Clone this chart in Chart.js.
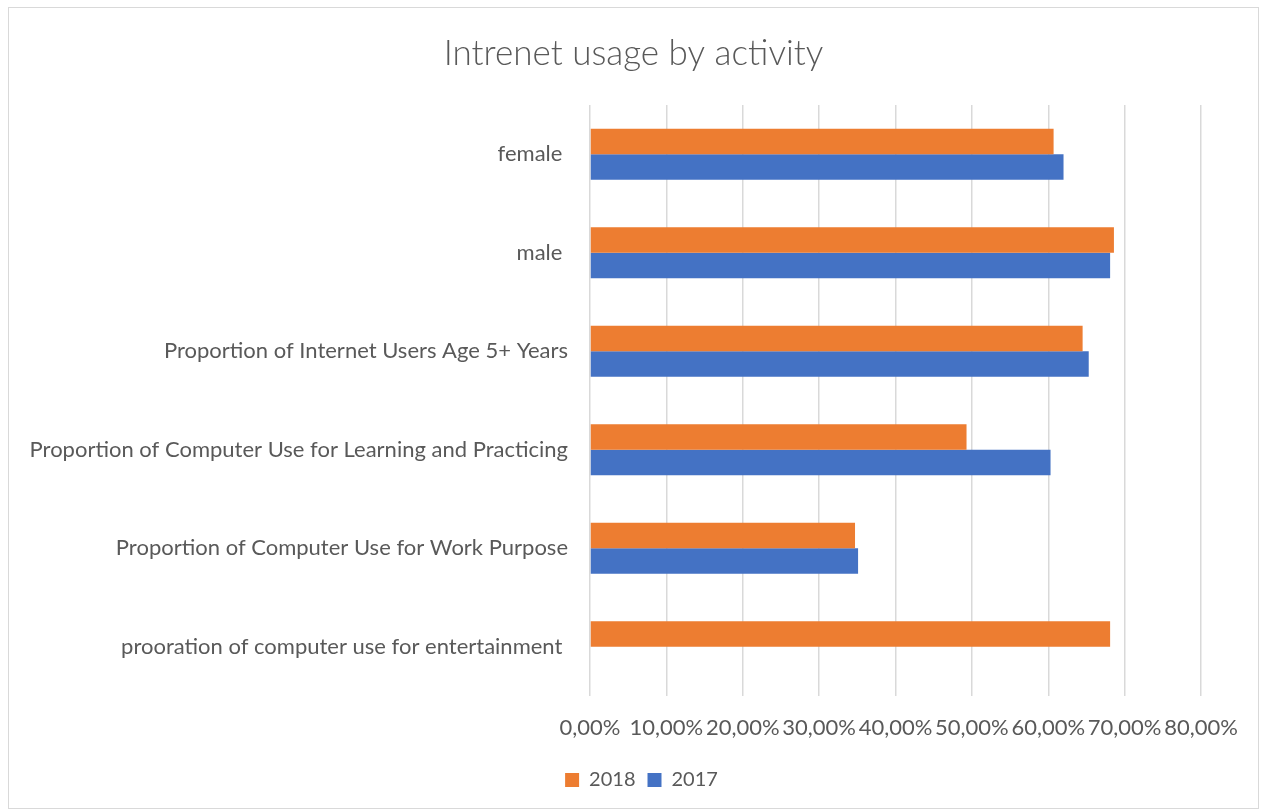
<!DOCTYPE html>
<html>
<head>
<meta charset="utf-8">
<script src="https://cdn.jsdelivr.net/npm/chart.js@4"></script>
<style>
  html, body { margin: 0; padding: 0; background: #fff; }
  #wrap { position: relative; width: 1267px; height: 812px; }
  #frame { position: absolute; left: 8px; top: 7px; width: 1249px; height: 800px; border: 1px solid #d9d9d9; pointer-events: none; }
</style>
</head>
<body>
<div id="wrap">
  <canvas id="usage" width="1267" height="812"></canvas>
  <div id="frame"></div>
</div>
<script>
// categories, top to bottom
var categories = [
  'female ',
  'male ',
  'Proportion of Internet Users Age 5+ Years',
  'Proportion of Computer Use for Learning and Practicing',
  'Proportion of Computer Use for Work Purpose',
  'prooration of computer use for entertainment '
];
var values2018 = [60.7, 68.6, 64.5, 49.3, 34.7, 68.1];
var values2017 = [62.0, 68.1, 65.3, 60.3, 35.1, null];
var xTicks = [0, 10, 20, 30, 40, 50, 60, 70, 80];

var font = 'Lato';
var grey = '#595959';

// nudge the legend a little to the right, as in the original
var legendShift = {
  id: 'legendShift',
  afterLayout: function (chart) {
    chart.legend.left += 8;
    chart.legend.right += 8;
  }
};

var ctx = document.getElementById('usage');
var chart = new Chart(ctx, {
  type: 'bar',
  data: {
    labels: categories,
    datasets: [
      { label: '2018', data: values2018, backgroundColor: '#ED7D31' },
      { label: '2017', data: values2017, backgroundColor: '#4472C4' }
    ]
  },
  plugins: [legendShift],
  options: {
    indexAxis: 'y',
    responsive: false,
    animation: false,
    barPercentage: 1,
    categoryPercentage: 0.52,
    layout: { padding: { top: 33, left: 8, right: 8, bottom: 12 } },
    plugins: {
      title: {
        display: true,
        text: 'Intrenet usage by activity',
        color: grey,
        font: { family: font, size: 35, weight: '300' },
        padding: { top: 0, bottom: 30 }
      },
      legend: {
        position: 'bottom',
        labels: {
          color: grey,
          font: { family: font, size: 20 },
          boxWidth: 14,
          boxHeight: 14,
          padding: 12
        }
      },
      tooltip: { enabled: false }
    },
    scales: {
      x: {
        min: 0,
        max: 80,
        afterBuildTicks: function (s) {
          s.ticks = xTicks.map(function (v) { return { value: v }; });
        },
        afterFit: function (s) {
          s.height = 62;
          s.paddingLeft = 0;
          s.paddingRight = 66;
        },
        ticks: {
          color: grey,
          font: { family: font, size: 22 },
          padding: 19,
          maxRotation: 0,
          autoSkip: false,
          callback: function (v) { return v.toFixed(2).replace('.', ',') + '%'; }
        },
        grid: { color: '#d9d9d9', lineWidth: 1.5, drawTicks: false },
        border: { display: false }
      },
      y: {
        afterFit: function (s) { s.width = 582; },
        ticks: {
          color: grey,
          font: { family: font, size: 22 },
          padding: 22
        },
        grid: { display: false, drawTicks: false },
        border: { display: false }
      }
    }
  }
});
</script>
</body>
</html>
